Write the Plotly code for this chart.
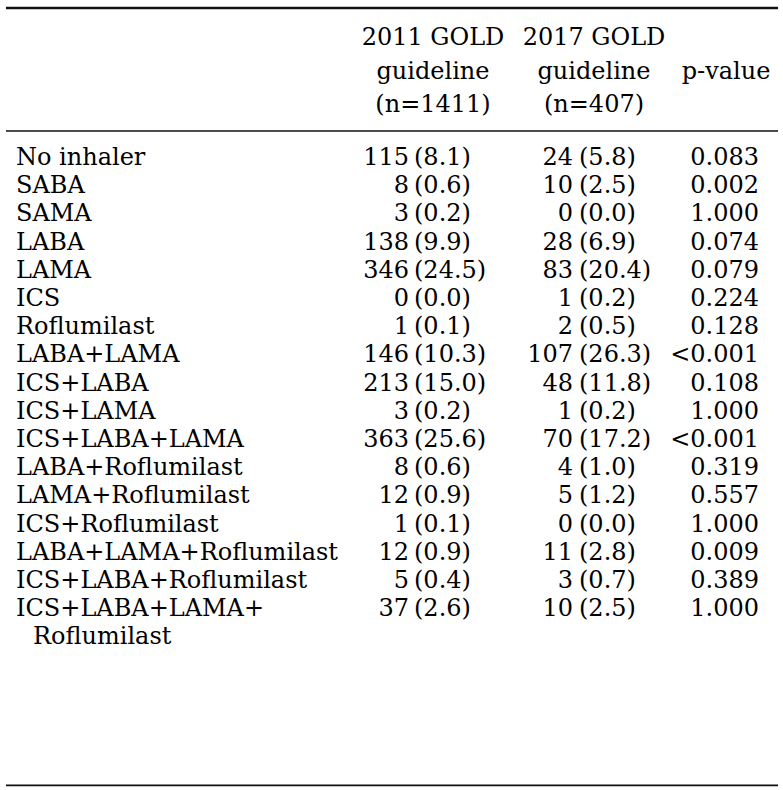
import plotly.graph_objects as go

# ---------------- data ----------------
row_labels = [
    "No inhaler", "SABA", "SAMA", "LABA", "LAMA", "ICS", "Roflumilast",
    "LABA+LAMA", "ICS+LABA", "ICS+LAMA", "ICS+LABA+LAMA", "LABA+Roflumilast",
    "LAMA+Roflumilast", "ICS+Roflumilast", "LABA+LAMA+Roflumilast",
    "ICS+LABA+Roflumilast", "ICS+LABA+LAMA+Roflumilast",
]
gold2011_n = [115, 8, 3, 138, 346, 0, 1, 146, 213, 3, 363, 8, 12, 1, 12, 5, 37]
gold2011_pct = [8.1, 0.6, 0.2, 9.9, 24.5, 0.0, 0.1, 10.3, 15.0, 0.2, 25.6, 0.6, 0.9, 0.1, 0.9, 0.4, 2.6]
gold2017_n = [24, 10, 0, 28, 83, 1, 2, 107, 48, 1, 70, 4, 5, 0, 11, 3, 10]
gold2017_pct = [5.8, 2.5, 0.0, 6.9, 20.4, 0.2, 0.5, 26.3, 11.8, 0.2, 17.2, 1.0, 1.2, 0.0, 2.8, 0.7, 2.5]
p_values = ["0.083", "0.002", "1.000", "0.074", "0.079", "0.224", "0.128", "<0.001",
            "0.108", "1.000", "<0.001", "0.319", "0.557", "1.000", "0.009", "0.389", "1.000"]

header_2011 = ["2011 GOLD", "guideline", "(n=1411)"]
header_2017 = ["2017 GOLD", "guideline", "(n=407)"]
header_p = ["", "p-value", ""]

# ---------------- layout constants ----------------
W, H = 783, 790
FONT = dict(family="DejaVu Serif", size=24, color="#000000")
ROW_Y0, ROW_STEP = 159.0, 28.2
HEADER_Y = [39.0, 73.0, 106.0]
X_LABEL, X_LABEL_CONT = 16, 33
X_C1_N, X_C1_P = 409, 414
X_C2_N, X_C2_P = 573, 579
X_PV = 759
X_H1, X_H2, X_HP = 433, 594, 726

fig = go.Figure()


def add_text(xs, ys, texts, pos):
    fig.add_trace(go.Scatter(
        x=xs, y=ys, text=texts, mode="text", textposition=pos,
        textfont=FONT, hoverinfo="skip", showlegend=False, cliponaxis=False,
    ))


# build label lines (wrap very long labels at the last '+')
lab_x, lab_y, lab_t = [], [], []
cont_x, cont_y, cont_t = [], [], []
line = 0
row_y = []
for lab in row_labels:
    y = ROW_Y0 + line * ROW_STEP
    row_y.append(y)
    if len(lab) > 22:
        k = lab.rfind("+")
        lab_x.append(X_LABEL); lab_y.append(y); lab_t.append(lab[:k + 1])
        line += 1
        cont_x.append(X_LABEL_CONT); cont_y.append(ROW_Y0 + line * ROW_STEP); cont_t.append(lab[k + 1:])
    else:
        lab_x.append(X_LABEL); lab_y.append(y); lab_t.append(lab)
    line += 1

add_text(lab_x, lab_y, lab_t, "middle right")
add_text(cont_x, cont_y, cont_t, "middle right")

n = len(row_labels)
add_text([X_C1_N] * n, row_y, [str(v) for v in gold2011_n], "middle left")
add_text([X_C1_P] * n, row_y, [f"({v:.1f})" for v in gold2011_pct], "middle right")
add_text([X_C2_N] * n, row_y, [str(v) for v in gold2017_n], "middle left")
add_text([X_C2_P] * n, row_y, [f"({v:.1f})" for v in gold2017_pct], "middle right")
add_text([X_PV] * n, row_y, p_values, "middle left")

# headers
add_text([X_H1] * 3, HEADER_Y, header_2011, "middle center")
add_text([X_H2] * 3, HEADER_Y, header_2017, "middle center")
add_text([X_HP] * 3, HEADER_Y, header_p, "middle center")

# rules
shapes = [
    dict(type="line", x0=6, x1=778, y0=8, y1=8, line=dict(color="#111111", width=2.3)),
    dict(type="line", x0=6, x1=778, y0=131, y1=131, line=dict(color="#111111", width=1.3)),
    dict(type="line", x0=6, x1=778, y0=785.3, y1=785.3, line=dict(color="#111111", width=1.8)),
]
for s in shapes:
    s.update(xref="x", yref="y", layer="above")

fig.update_layout(
    width=W, height=H, margin=dict(l=0, r=0, t=0, b=0, pad=0),
    paper_bgcolor="white", plot_bgcolor="white",
    xaxis=dict(range=[0, W], visible=False, fixedrange=True),
    yaxis=dict(range=[H, 0], visible=False, fixedrange=True),
    shapes=shapes,
)

fig.write_html(
    "out.html",
    config={"displayModeBar": False},
    post_script="document.body.style.margin='0';document.body.style.overflow='hidden';",
)
